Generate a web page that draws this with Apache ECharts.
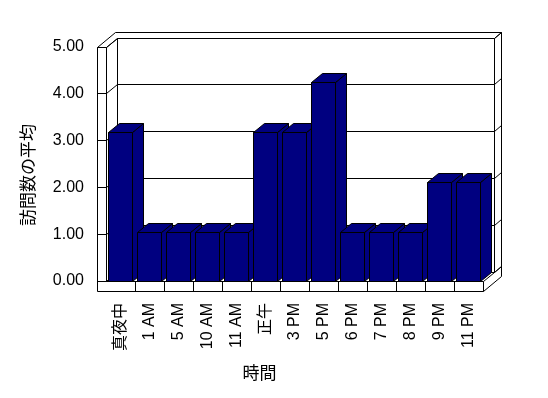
<!DOCTYPE html>
<html>
<head>
<meta charset="utf-8">
<script src="https://cdn.jsdelivr.net/npm/echarts@6/dist/echarts.min.js"></script>
<style>
html,body{margin:0;padding:0;background:#fff;}
#chart{width:548px;height:398px;}
</style>
</head>
<body>
<div id="chart"></div>
<script>
var categories = ['真夜中', '1 AM', '5 AM', '10 AM', '11 AM', '正午', '3 PM', '5 PM', '6 PM', '7 PM', '8 PM', '9 PM', '11 PM'];
var values = [3.17, 1.04, 1.04, 1.04, 1.04, 3.17, 3.17, 4.24, 1.04, 1.04, 1.04, 2.11, 2.11];
var yTicks = [0, 1, 2, 3, 4, 5];
var yTitle = '訪問数の平均';
var xTitle = '時間';

var FONT = "'Liberation Sans', 'Noto Sans CJK JP', sans-serif";
var DX = 11, DY = -9;      // depth of floor / bars
var TX = 7, TY = -6;       // back wall thickness
var W = 9;                 // left wall thickness
var F = 10;                // floor thickness
function s(v){ return Math.floor(v) + 0.5; }
var LINE = {stroke:'#000', lineWidth:1, fill:null};

function frameBounds(api){
  return {
    xL: s(api.coord([-0.5, 0])[0]),
    xR: s(api.coord([categories.length - 0.5, 0])[0]),
    y0: s(api.coord([0, 0])[1]),
    yT: s(api.coord([0, yTicks[yTicks.length-1]])[1])
  };
}
function line(pts){ return {type:'polyline', shape:{points:pts}, style:LINE, silent:true}; }

var chart = echarts.init(document.getElementById('chart'), null, {renderer:'canvas'});
var barData = values.map(function(v, i){ return [i, v]; });
var gridData = yTicks.map(function(t){ return [0, t]; });

chart.setOption({
  animation: false,
  backgroundColor: '#fff',
  grid: {left: 106, right: 65, top: 47, bottom: 117},
  xAxis: [{
    type: 'category',
    data: categories,
    axisLine: {show: false},
    axisTick: {show: false},
    splitLine: {show: false},
    axisLabel: {rotate: 90, margin: 22, interval: 0, fontSize: 16, color: '#000', fontFamily: FONT}
  }, {
    type: 'value', min: -0.5, max: categories.length - 0.5, show: false
  }],
  yAxis: {
    type: 'value', min: 0, max: 5, interval: 1,
    axisLine: {show: false}, axisTick: {show: false}, splitLine: {show: false},
    axisLabel: {margin: 22, fontSize: 16, color: '#000', fontFamily: FONT,
      formatter: function(v){ return v.toFixed(2); }}
  },
  graphic: [
    {type:'text', x: 29, y: 175, rotation: Math.PI/2,
     style:{text: yTitle, fontSize: 17, fontFamily: FONT, fill:'#000', align:'center', verticalAlign:'middle'}},
    {type:'text', x: 259.5, y: 374.5,
     style:{text: xTitle, fontSize: 17, fontFamily: FONT, fill:'#000', align:'center', verticalAlign:'middle'}}
  ],
  series: [{
    // walls and floor
    type: 'custom', xAxisIndex: 1, yAxisIndex: 0, silent: true, z: 1,
    data: [[0, 0]],
    renderItem: function(params, api){
      var b = frameBounds(api), xL=b.xL, xR=b.xR, y0=b.y0, yT=b.yT;
      var band = (xR - xL) / categories.length;
      var ch = [];
      // left wall front face
      ch.push(line([[xL-W, yT],[xL, yT],[xL, y0]]));
      ch.push(line([[xL-W, yT],[xL-W, y0+F]]));
      // outer top of walls
      ch.push(line([[xL-W, yT],[xL-W+DX+TX, yT+DY+TY],[xR+DX+TX, yT+DY+TY],[xR+DX+TX, y0+F+DY+TY],[xR, y0+F]]));
      // inner diagonal top of left wall
      ch.push(line([[xL, yT],[xL+DX, yT+DY]]));
      // back wall inner face
      ch.push(line([[xL+DX, y0+DY],[xL+DX, yT+DY],[xR+DX, yT+DY],[xR+DX, y0+DY]]));
      ch.push(line([[xR+DX, yT+DY],[xR+DX+TX, yT+DY+TY]]));
      // floor
      ch.push(line([[xL, y0],[xL+DX, y0+DY],[xR+DX, y0+DY],[xR, y0]]));
      ch.push(line([[xR+DX, y0+DY],[xR+DX+TX, y0+DY+TY]]));
      ch.push(line([[xL, y0],[xR, y0],[xR, y0+F],[xL-W, y0+F]]));
      for (var k = 1; k < categories.length; k++){
        var xd = s(xL + k*band);
        ch.push(line([[xd, y0],[xd, y0+F]]));
      }
      return {type:'group', children: ch};
    }
  }, {
    // gridlines
    type: 'custom', xAxisIndex: 1, yAxisIndex: 0, silent: true, z: 2,
    data: gridData,
    renderItem: function(params, api){
      var b = frameBounds(api), xL=b.xL, xR=b.xR;
      var y = s(api.coord([0, api.value(1)])[1]);
      return {type:'group', children: [
        line([[xL-W, y],[xL, y],[xL+DX, y+DY],[xR+DX, y+DY],[xR+DX+TX, y+DY+TY]])
      ]};
    }
  }, {
    // 3D bars
    type: 'custom', xAxisIndex: 1, yAxisIndex: 0, z: 3,
    data: barData,
    renderItem: function(params, api){
      var c = api.coord([api.value(0), api.value(1)]);
      var bt = api.coord([api.value(0), 0]);
      var w = api.size([0.8, 0])[0];
      var x1 = s(c[0] - w/2), x2 = s(c[0] + w/2), yt = s(c[1]), yb = s(bt[1]);
      var st = {fill:'#000080', stroke:'#000', lineWidth:1};
      return {type:'group', children: [
        {type:'polygon', shape:{points:[[x2,yt],[x2+DX,yt+DY],[x2+DX,yb+DY],[x2,yb]]}, style: st},
        {type:'polygon', shape:{points:[[x1,yt],[x2,yt],[x2+DX,yt+DY],[x1+DX,yt+DY]]}, style: st},
        {type:'polygon', shape:{points:[[x1,yt],[x2,yt],[x2,yb],[x1,yb]]}, style: st}
      ]};
    }
  }]
});
</script>
</body>
</html>
